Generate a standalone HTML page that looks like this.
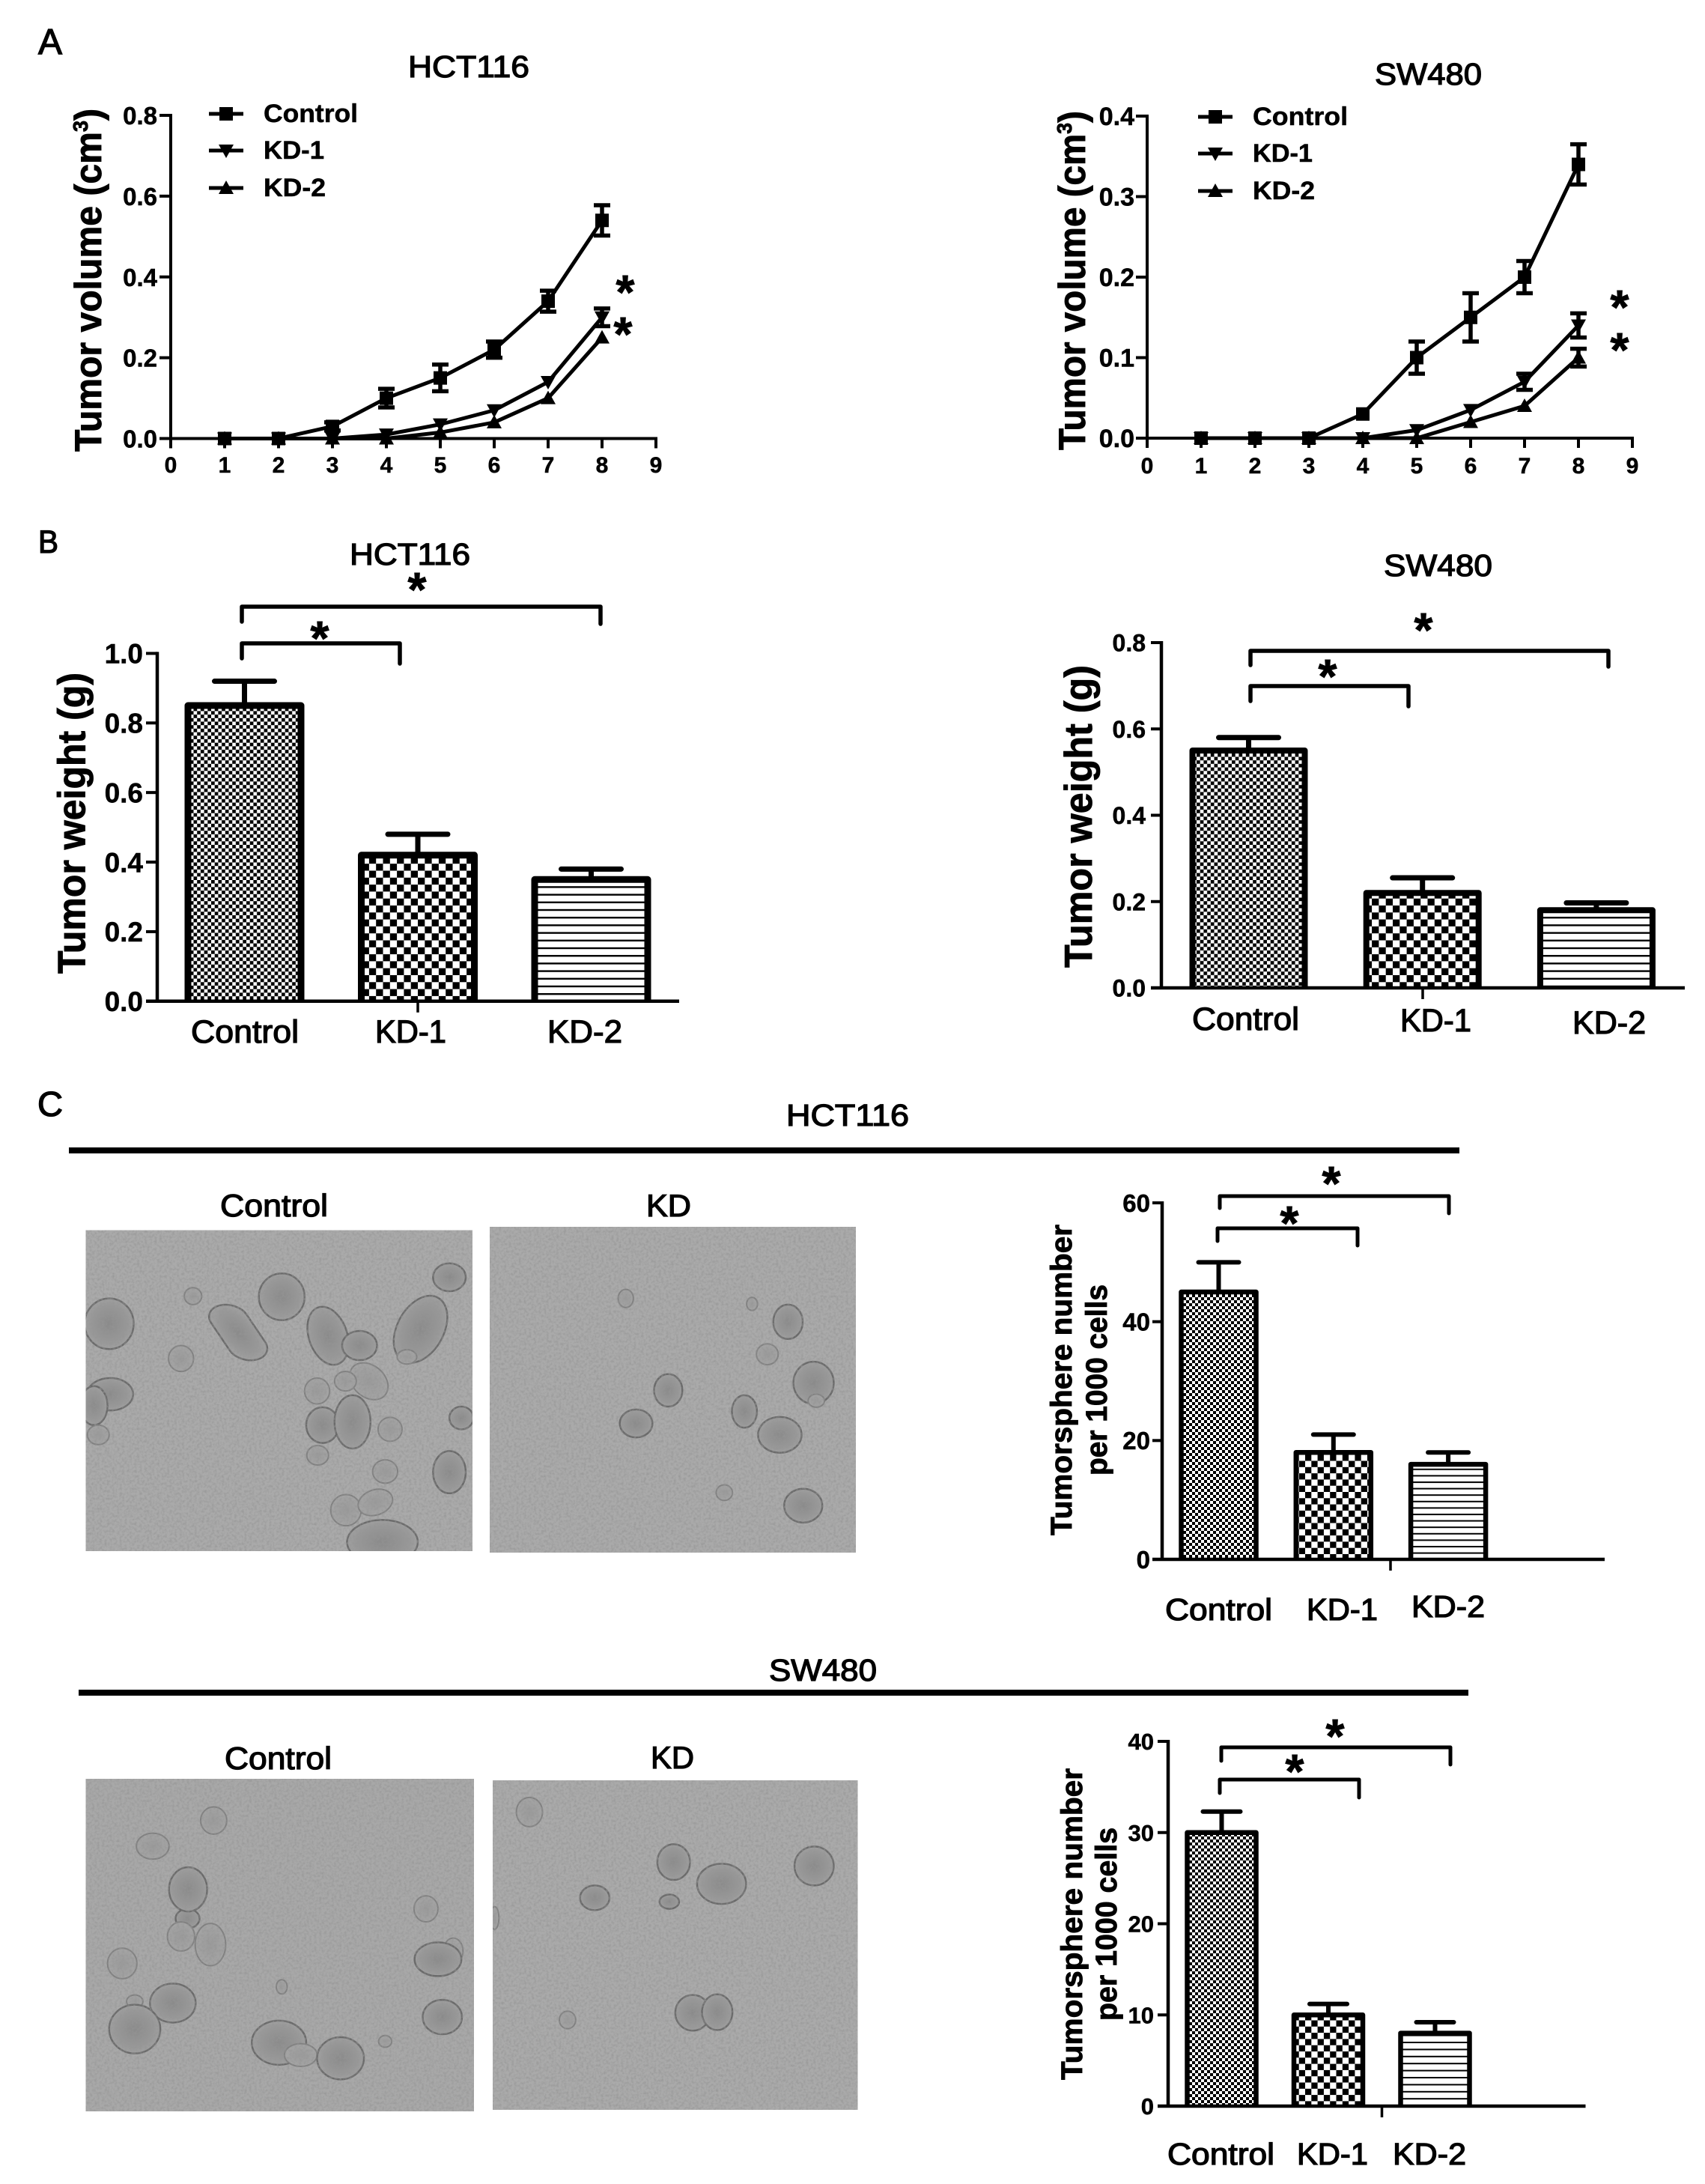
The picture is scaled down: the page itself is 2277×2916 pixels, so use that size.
<!DOCTYPE html>
<html lang="en">
<head>
<meta charset="utf-8">
<title>Tumor growth and tumorsphere figure</title>
<style>
html,body{margin:0;padding:0;background:#fff}
svg{display:block}
text{font-family:"Liberation Sans",sans-serif;fill:#000}
.b{font-weight:700;stroke:#000;stroke-width:.5px}
.t{font-weight:700;stroke:#000;stroke-width:.9px}
.m{font-weight:400;stroke:#000;stroke-width:1.3px}
.s{fill:url(#sphere);stroke:#6a6a6a;stroke-width:2.5px;vector-effect:non-scaling-stroke}
.f{fill:url(#sphereFaint);stroke:#808080;stroke-width:2px;vector-effect:non-scaling-stroke}
</style>
</head>
<body>
<svg id="figure" xmlns="http://www.w3.org/2000/svg" width="2277" height="2916" viewBox="0 0 2277 2916">
<defs>
<pattern id="fineB" width="9.4" height="9.4" patternUnits="userSpaceOnUse"><rect width="9.4" height="9.4" fill="#fff"/><rect width="4.7" height="4.7"/><rect x="4.7" y="4.7" width="4.7" height="4.7"/></pattern>
<pattern id="coarseB" width="18.6" height="18.6" patternUnits="userSpaceOnUse"><rect width="18.6" height="18.6" fill="#fff"/><rect width="9.3" height="9.3"/><rect x="9.3" y="9.3" width="9.3" height="9.3"/></pattern>
<pattern id="linesB" width="10.2" height="10.2" patternUnits="userSpaceOnUse"><rect width="10.2" height="10.2" fill="#fff"/><rect width="10.2" height="2.4"/></pattern>
<pattern id="fineC" width="8" height="8" patternUnits="userSpaceOnUse"><rect width="8" height="8" fill="#fff"/><rect width="4" height="4"/><rect x="4" y="4" width="4" height="4"/></pattern>
<pattern id="coarseC" width="16.6" height="16.6" patternUnits="userSpaceOnUse"><rect width="16.6" height="16.6" fill="#fff"/><rect width="8.3" height="8.3"/><rect x="8.3" y="8.3" width="8.3" height="8.3"/></pattern>
<pattern id="linesC1" width="8.6" height="8.6" patternUnits="userSpaceOnUse"><rect width="8.6" height="8.6" fill="#fff"/><rect width="8.6" height="2"/></pattern>
<pattern id="linesC2" width="9.4" height="9.4" patternUnits="userSpaceOnUse"><rect width="9.4" height="9.4" fill="#fff"/><rect width="9.4" height="2"/></pattern>
<radialGradient id="sphere"><stop offset="0" stop-color="#8a8a8a"/><stop offset=".75" stop-color="#989898"/><stop offset="1" stop-color="#a0a0a0"/></radialGradient>
<radialGradient id="sphereFaint"><stop offset="0" stop-color="#9a9a9a"/><stop offset="1" stop-color="#a5a5a5"/></radialGradient>
<filter id="grain" x="0" y="0" width="100%" height="100%"><feTurbulence type="fractalNoise" baseFrequency="0.3" numOctaves="2" seed="4"/><feColorMatrix type="matrix" values="0 0 0 0 .3 0 0 0 0 .3 0 0 0 0 .3 1.6 0 0 0 -.62"/></filter>
<clipPath id="clipP1"><rect x="114.5" y="1642.5" width="516.5" height="428.5"/></clipPath>
<clipPath id="clipP2"><rect x="654" y="1638" width="489" height="435"/></clipPath>
<clipPath id="clipP3"><rect x="114.5" y="2375" width="518.5" height="444"/></clipPath>
<clipPath id="clipP4"><rect x="658" y="2377" width="487.5" height="440"/></clipPath>
</defs>

<rect width="2277" height="2916" fill="#fff"/>

<text class="m" x="51" y="72" font-size="48" textLength="32" lengthAdjust="spacingAndGlyphs">A</text>
<text class="m" x="51" y="738" font-size="43" textLength="27" lengthAdjust="spacingAndGlyphs">B</text>
<text class="m" x="50" y="1490" font-size="46" textLength="34" lengthAdjust="spacingAndGlyphs">C</text>

<text class="m" x="545" y="103" font-size="41" textLength="162" lengthAdjust="spacingAndGlyphs">HCT116</text>
<text class="m" x="1836" y="113" font-size="41" textLength="143" lengthAdjust="spacingAndGlyphs">SW480</text>
<text class="m" x="467" y="754" font-size="41" textLength="161" lengthAdjust="spacingAndGlyphs">HCT116</text>
<text class="m" x="1848" y="769" font-size="41" textLength="145" lengthAdjust="spacingAndGlyphs">SW480</text>

<text class="t" transform="translate(135,603) rotate(-90)" font-size="50" textLength="458" lengthAdjust="spacingAndGlyphs">Tumor volume (cm<tspan font-size="28" dy="-18">3</tspan><tspan dy="18">)</tspan></text>
<text class="t" transform="translate(1449,601) rotate(-90)" font-size="50" textLength="453" lengthAdjust="spacingAndGlyphs">Tumor volume (cm<tspan font-size="28" dy="-18">3</tspan><tspan dy="18">)</tspan></text>
<text class="t" transform="translate(113.5,1300) rotate(-90)" font-size="52" textLength="402" lengthAdjust="spacingAndGlyphs">Tumor weight (g)</text>
<text class="t" transform="translate(1458,1292) rotate(-90)" font-size="52" textLength="404" lengthAdjust="spacingAndGlyphs">Tumor weight (g)</text>

<text class="m" x="1050" y="1503" font-size="41" textLength="164" lengthAdjust="spacingAndGlyphs">HCT116</text>
<rect x="92" y="1532" width="1857" height="8"/>
<text class="m" x="294" y="1624" font-size="42" textLength="144" lengthAdjust="spacingAndGlyphs">Control</text>
<text class="m" x="863" y="1624" font-size="42" textLength="60" lengthAdjust="spacingAndGlyphs">KD</text>

<text class="m" x="1027" y="2244" font-size="41" textLength="144" lengthAdjust="spacingAndGlyphs">SW480</text>
<rect x="105" y="2256" width="1856" height="8"/>
<text class="m" x="300" y="2362" font-size="42" textLength="143" lengthAdjust="spacingAndGlyphs">Control</text>
<text class="m" x="869" y="2361" font-size="42" textLength="58" lengthAdjust="spacingAndGlyphs">KD</text>

<g clip-path="url(#clipP1)">
<rect x="114.5" y="1642.5" width="516.5" height="428.5" fill="#aaaaaa"/>
<g transform="translate(60,1430) scale(.727,.4337)">
<ellipse class="s" cx="118" cy="778" rx="45" ry="78"/>
<ellipse class="s" cx="435" cy="695" rx="42" ry="72"/>
<ellipse class="f" cx="272" cy="693" rx="16" ry="26"/>
<ellipse class="s" cx="743" cy="635" rx="30" ry="43"/>
<rect class="s" x="320" y="715" width="70" height="180" rx="35" ry="45" transform="rotate(-22 355 805)"/>
<ellipse class="f" cx="250" cy="885" rx="23" ry="40"/>
<ellipse class="s" cx="520" cy="815" rx="36" ry="90" transform="rotate(-8 520 815)"/>
<ellipse class="s" cx="578" cy="845" rx="32" ry="45"/>
<ellipse class="s" cx="690" cy="795" rx="45" ry="105" transform="rotate(12 690 795)"/>
<ellipse class="f" cx="665" cy="880" rx="18" ry="22"/>
<ellipse class="s" cx="120" cy="995" rx="42" ry="50"/>
<ellipse class="s" cx="90" cy="1030" rx="25" ry="60"/>
<ellipse class="f" cx="98" cy="1120" rx="20" ry="30"/>
<ellipse class="f" cx="595" cy="955" rx="33" ry="58" transform="rotate(-15 595 955)"/>
<ellipse class="f" cx="552" cy="955" rx="20" ry="30"/>
<ellipse class="f" cx="500" cy="985" rx="23" ry="40"/>
<ellipse class="s" cx="510" cy="1090" rx="30" ry="55"/>
<ellipse class="s" cx="565" cy="1080" rx="33" ry="82"/>
<ellipse class="f" cx="634" cy="1103" rx="22" ry="37"/>
<ellipse class="f" cx="501" cy="1183" rx="20" ry="30"/>
<ellipse class="f" cx="625" cy="1233" rx="23" ry="36"/>
<ellipse class="s" cx="743" cy="1235" rx="30" ry="65"/>
<ellipse class="f" cx="553" cy="1352" rx="28" ry="48"/>
<ellipse class="f" cx="607" cy="1328" rx="30" ry="42" transform="rotate(20 607 1328)"/>
<ellipse class="s" cx="620" cy="1450" rx="65" ry="68"/>
<ellipse class="s" cx="765" cy="1068" rx="22" ry="35"/>
</g>
<rect x="114.5" y="1642.5" width="516.5" height="428.5" filter="url(#grain)"/>
</g>

<g clip-path="url(#clipP2)">
<rect x="654" y="1638" width="489" height="435" fill="#aaaaaa"/>
<g transform="translate(60,1430) scale(.727,.4337)">
<ellipse class="f" cx="1067" cy="700" rx="14" ry="28"/>
<ellipse class="f" cx="1299" cy="717" rx="10" ry="20"/>
<ellipse class="s" cx="1365" cy="772" rx="27" ry="53"/>
<ellipse class="f" cx="1327" cy="872" rx="20" ry="32"/>
<ellipse class="s" cx="1412" cy="960" rx="37" ry="65"/>
<ellipse class="f" cx="1417" cy="1015" rx="15" ry="20"/>
<ellipse class="s" cx="1145" cy="983" rx="26" ry="50"/>
<ellipse class="s" cx="1086" cy="1085" rx="30" ry="43"/>
<ellipse class="s" cx="1285" cy="1048" rx="23" ry="50"/>
<ellipse class="s" cx="1350" cy="1120" rx="40" ry="55"/>
<ellipse class="f" cx="1248" cy="1298" rx="15" ry="24"/>
<ellipse class="s" cx="1393" cy="1338" rx="35" ry="52"/>
</g>
<rect x="654" y="1638" width="489" height="435" filter="url(#grain)"/>
</g>

<g clip-path="url(#clipP3)">
<rect x="114.5" y="2375" width="518.5" height="444" fill="#a8a8a8"/>
<g transform="translate(60,2180) scale(.727,.4337)">
<ellipse class="f" cx="310" cy="578" rx="24" ry="42"/>
<ellipse class="f" cx="198" cy="657" rx="30" ry="40"/>
<ellipse class="s" cx="262" cy="880" rx="22" ry="30"/>
<ellipse class="s" cx="263" cy="790" rx="35" ry="68"/>
<ellipse class="f" cx="250" cy="935" rx="25" ry="45"/>
<ellipse class="f" cx="304" cy="960" rx="28" ry="65"/>
<ellipse class="f" cx="142" cy="1018" rx="27" ry="47"/>
<ellipse class="f" cx="700" cy="850" rx="22" ry="40"/>
<ellipse class="f" cx="750" cy="980" rx="18" ry="40"/>
<ellipse class="s" cx="722" cy="1005" rx="43" ry="52"/>
<ellipse class="s" cx="730" cy="1183" rx="36" ry="53"/>
<ellipse class="f" cx="165" cy="1135" rx="15" ry="20"/>
<ellipse class="s" cx="235" cy="1140" rx="42" ry="60"/>
<ellipse class="s" cx="165" cy="1220" rx="47" ry="75"/>
<ellipse class="f" cx="435" cy="1090" rx="10" ry="22"/>
<ellipse class="s" cx="430" cy="1262" rx="50" ry="68"/>
<ellipse class="f" cx="470" cy="1300" rx="30" ry="35"/>
<ellipse class="s" cx="543" cy="1310" rx="43" ry="65"/>
<ellipse class="f" cx="625" cy="1258" rx="12" ry="18"/>
</g>
<rect x="114.5" y="2375" width="518.5" height="444" filter="url(#grain)"/>
</g>

<g clip-path="url(#clipP4)">
<rect x="658" y="2377" width="487.5" height="440" fill="#aaaaaa"/>
<g transform="translate(60,2180) scale(.727,.4337)">
<ellipse class="f" cx="890" cy="552" rx="24" ry="45"/>
<ellipse class="s" cx="1155" cy="706" rx="30" ry="55"/>
<ellipse class="s" cx="1243" cy="773" rx="45" ry="62"/>
<ellipse class="s" cx="1413" cy="718" rx="36" ry="60"/>
<ellipse class="s" cx="1010" cy="816" rx="27" ry="38"/>
<ellipse class="s" cx="1147" cy="828" rx="18" ry="22"/>
<ellipse class="s" cx="1190" cy="1170" rx="32" ry="55"/>
<ellipse class="s" cx="1235" cy="1168" rx="28" ry="55"/>
<ellipse class="f" cx="960" cy="1192" rx="15" ry="27"/>
<ellipse class="f" cx="826" cy="878" rx="8" ry="35"/>
</g>
<rect x="658" y="2377" width="487.5" height="440" filter="url(#grain)"/>
</g>

<text class="t" transform="translate(1431,2050) rotate(-90)" font-size="40" textLength="415" lengthAdjust="spacingAndGlyphs">Tumorsphere number</text>
<text class="t" transform="translate(1478,1970) rotate(-90)" font-size="40" textLength="255" lengthAdjust="spacingAndGlyphs">per 1000 cells</text>
<text class="t" transform="translate(1445,2777) rotate(-90)" font-size="40" textLength="416" lengthAdjust="spacingAndGlyphs">Tumorsphere number</text>
<text class="t" transform="translate(1491,2698) rotate(-90)" font-size="40" textLength="258" lengthAdjust="spacingAndGlyphs">per 1000 cells</text>
</svg>

<script>
// ---- Panel A: tumor volume ----
const weeks = [1, 2, 3, 4, 5, 6, 7, 8];
const seriesNames = ['Control', 'KD-1', 'KD-2'];
const xTickLabels = ['0', '1', '2', '3', '4', '5', '6', '7', '8', '9'];

const a1Ticks = ['0.0', '0.2', '0.4', '0.6', '0.8'];
const a1Control = [0, 0, 0.03, 0.1, 0.15, 0.22, 0.34, 0.54];
const a1ControlErr = [0, 0, 0.01, 0.023, 0.033, 0.02, 0.026, 0.0375];
const a1Kd1 = [0, 0, 0, 0.01, 0.035, 0.07, 0.14, 0.3];
const a1Kd1Err = [0, 0, 0, 0, 0, 0, 0, 0.022];
const a1Kd2 = [0, 0, 0, 0, 0.015, 0.04, 0.1, 0.25];
const a1Kd2Err = [0, 0, 0, 0, 0, 0, 0, 0];

const a2Ticks = ['0.0', '0.1', '0.2', '0.3', '0.4'];
const a2Control = [0, 0, 0, 0.03, 0.1, 0.15, 0.2, 0.34];
const a2ControlErr = [0, 0, 0, 0, 0.02, 0.03, 0.02, 0.025];
const a2Kd1 = [0, 0, 0, 0, 0.01, 0.035, 0.07, 0.14];
const a2Kd1Err = [0, 0, 0, 0, 0, 0, 0.01, 0.015];
const a2Kd2 = [0, 0, 0, 0, 0, 0.02, 0.04, 0.1];
const a2Kd2Err = [0, 0, 0, 0, 0, 0, 0, 0.011];

// ---- Panel B: tumor weight ----
const barCategories = ['Control', 'KD-1', 'KD-2'];
const b1Ticks = ['0.0', '0.2', '0.4', '0.6', '0.8', '1.0'];
const b1Values = [0.85, 0.42, 0.35];
const b1Upper = [0.92, 0.48, 0.38];
const b2Ticks = ['0.0', '0.2', '0.4', '0.6', '0.8'];
const b2Values = [0.55, 0.22, 0.18];
const b2Upper = [0.58, 0.255, 0.197];

// ---- Panel C: tumorsphere number ----
const c1Ticks = ['0', '20', '40', '60'];
const c1Values = [45, 18, 16];
const c1Upper = [50, 21, 18];
const c2Ticks = ['0', '10', '20', '30', '40'];
const c2Values = [30, 10, 8];
const c2Upper = [32.3, 11.2, 9.2];

const NS = 'http://www.w3.org/2000/svg';
const root = document.getElementById('figure');

function mk(tag, attrs, parent) {
  const n = document.createElementNS(NS, tag);
  for (const k in attrs) n.setAttribute(k, attrs[k]);
  parent.appendChild(n);
  return n;
}
function ln(parent, x1, y1, x2, y2, w, cap) {
  return mk('line', {x1: x1, y1: y1, x2: x2, y2: y2, stroke: '#000', 'stroke-width': w, 'stroke-linecap': cap || 'butt'}, parent);
}
function tx(parent, str, x, y, size, cls, anchor, len) {
  const attrs = {x: x, y: y, 'font-size': size, class: cls, 'text-anchor': anchor || 'start'};
  if (len) {
    attrs.textLength = len;
    attrs.lengthAdjust = 'spacingAndGlyphs';
  }
  const n = mk('text', attrs, parent);
  n.textContent = str;
  return n;
}
function star(parent, cx, cy) {
  const n = tx(parent, '*', cx, cy + 30, 64, 't', 'middle');
  
  
}
function markerPath(kind, x, y) {
  if (kind === 0) return `M${x - 9} ${y - 9}h18v18h-18z`;
  if (kind === 1) return `M${x - 10} ${y - 8}h20l-10 18z`;
  return `M${x - 10} ${y + 8}h20l-10 -18z`;
}

function lineChart(cfg) {
  const g = mk('g', {}, root);
  
  
  const xs = v => cfg.x0 + v * cfg.xStep;
  const ys = v => cfg.y0 - (v / cfg.max) * (cfg.y0 - cfg.yTop);

  const yAxis = ln(g, cfg.x0, cfg.yTop - 2, cfg.x0, cfg.y0 + 2, 4);
  
  
  const xAxis = ln(g, cfg.x0 - 2, cfg.y0, xs(9) + 2, cfg.y0, 4);
  
  

  cfg.ticks.forEach(t => {
    const y = ys(parseFloat(t));
    const m = ln(g, cfg.x0 - 15, y, cfg.x0, y, 4);
    
    
    const l = tx(g, t, cfg.labelRight, y + 12, cfg.tickSize, 'b', 'end');
    
    
  });
  xTickLabels.forEach(t => {
    const x = xs(+t);
    const m = ln(g, x, cfg.y0, x, cfg.y0 + 13, 4);
    
    
    const l = tx(g, t, x, cfg.xLabelY, 30, 'b', 'middle');
    
    
  });

  [2, 1, 0].forEach(si => {
    const vals = cfg.series[si], errs = cfg.errors[si];
    const sg = mk('g', {}, g);
    
    
    const pts = vals.map((v, i) => xs(weeks[i]) + ',' + ys(v)).join(' ');
    const pl = mk('polyline', {points: pts, fill: 'none', stroke: '#000', 'stroke-width': 5, 'stroke-linejoin': 'round'}, sg);
    
    
    vals.forEach((v, i) => {
      const x = xs(weeks[i]), y = ys(v);
      const e = errs[i];
      if (e > 0) {
        const eb = mk('path', {d: `M${x} ${ys(v - e)}V${ys(v + e)}M${x - 11} ${ys(v + e)}h22M${x - 11} ${ys(v - e)}h22`, fill: 'none', stroke: '#000', 'stroke-width': 5.5}, sg);
        
        
      }
      const pt = mk('path', {d: markerPath(si, x, y)}, sg);
      
      
    });
  });

  seriesNames.forEach((name, si) => {
    const lg = mk('g', {}, g);
    
    
    const y = cfg.legendY[si];
    ln(lg, cfg.legendX, y, cfg.legendX + 46, y, 5);
    mk('path', {d: markerPath(si, cfg.legendX + 23, y)}, lg);
    tx(lg, name, cfg.legendTextX, y + 11, 34, 'b', 'start', cfg.legendLens[si]);
  });
  cfg.stars.forEach(s => star(g, s[0], s[1]));
}

function barChart(cfg) {
  const g = mk('g', {}, root);
  
  
  const ys = v => cfg.y0 - (v / cfg.max) * (cfg.y0 - cfg.yTop);
  const cx = i => cfg.c0 + i * cfg.step;

  cfg.values.forEach((v, i) => {
    const left = cx(i) - cfg.width / 2;
    const bar = mk('path', {d: `M${left} ${cfg.y0}V${ys(v)}h${cfg.width}V${cfg.y0}`, fill: 'url(#' + cfg.fills[i] + ')', stroke: '#000', 'stroke-width': cfg.barStroke, 'stroke-linejoin': 'round'}, g);
    
    
    const top = ys(cfg.upper[i]);
    const eb = mk('path', {d: `M${cx(i)} ${ys(v)}V${top}M${cx(i) - cfg.cap / 2} ${top}h${cfg.cap}`, fill: 'none', stroke: '#000', 'stroke-width': cfg.capStroke, 'stroke-linecap': 'round'}, g);
    
    
  });

  const yAxis = ln(g, cfg.x0, cfg.yTop - 2, cfg.x0, cfg.y0 + 2, 4.5);
  
  
  const xAxis = ln(g, cfg.xAxisStart, cfg.y0, cfg.xAxisEnd, cfg.y0, 4.5);
  
  
  const xt = ln(g, cfg.tickX, cfg.y0, cfg.tickX, cfg.y0 + 15, 3.5);
  
  

  cfg.ticks.forEach(t => {
    const y = ys(parseFloat(t));
    const m = ln(g, cfg.xAxisStart, y, cfg.x0, y, 4);
    
    
    const l = tx(g, t, cfg.labelRight, y + cfg.tickSize * 0.36, cfg.tickSize, 'b', 'end');
    
    
  });

  barCategories.forEach((name, i) => {
    const l = tx(g, name, cfg.catX[i], cfg.catY[i], cfg.catSize, 'm', 'start', cfg.catLen[i]);
    
    
  });

  cfg.brackets.forEach(b => {
    const br = mk('path', {d: `M${b[0]} ${b[3]}V${b[2]}H${b[1]}V${b[4]}`, fill: 'none', stroke: '#000', 'stroke-width': cfg.bracketStroke, 'stroke-linecap': 'round', 'stroke-linejoin': 'round'}, g);
    
    
    star(g, b[5], b[6]);
  });
}

lineChart({
  name: 'chart-a-hct116', x0: 228, xStep: 72, y0: 585.5, yTop: 154, max: 0.8,
  ticks: a1Ticks, labelRight: 210, tickSize: 33, xLabelY: 631,
  series: [a1Control, a1Kd1, a1Kd2], errors: [a1ControlErr, a1Kd1Err, a1Kd2Err],
  legendX: 279, legendTextX: 352, legendY: [152, 201, 251], legendLens: [126, 81, 83],
  stars: [[835, 382], [832, 438]]
});
lineChart({
  name: 'chart-a-sw480', x0: 1532, xStep: 72, y0: 585, yTop: 155, max: 0.4,
  ticks: a2Ticks, labelRight: 1515, tickSize: 34, xLabelY: 632,
  series: [a2Control, a2Kd1, a2Kd2], errors: [a2ControlErr, a2Kd1Err, a2Kd2Err],
  legendX: 1600, legendTextX: 1673, legendY: [156, 205, 255], legendLens: [127, 80, 83],
  stars: [[2163, 402], [2163, 459]]
});
barChart({
  name: 'chart-b-hct116', x0: 210, y0: 1336.8, yTop: 872.4, max: 1, xAxisStart: 195, xAxisEnd: 907, tickX: 558,
  c0: 326.5, step: 231.5, width: 151, barStroke: 9, cap: 80, capStroke: 7, bracketStroke: 5.5,
  values: b1Values, upper: b1Upper, ticks: b1Ticks, labelRight: 191, tickSize: 37,
  fills: ['fineB', 'coarseB', 'linesB'],
  catX: [255, 501, 731], catY: [1392, 1392, 1392], catLen: [144, 95, 100], catSize: 43,
  brackets: [[323, 534, 859, 879, 886, 427, 844], [323, 802, 810, 830, 833, 557, 779]]
});
barChart({
  name: 'chart-b-sw480', x0: 1551, y0: 1319, yTop: 858, max: 0.8, xAxisStart: 1537, xAxisEnd: 2250, tickX: 1900,
  c0: 1667.5, step: 232.2, width: 150, barStroke: 8, cap: 80, capStroke: 7, bracketStroke: 5.5,
  values: b2Values, upper: b2Upper, ticks: b2Ticks, labelRight: 1530, tickSize: 32,
  fills: ['fineB', 'coarseB', 'linesB'],
  catX: [1592, 1870, 2100], catY: [1375, 1377, 1380], catLen: [143, 95, 98], catSize: 43,
  brackets: [[1670, 1881, 916, 936, 943, 1773, 895], [1670, 2148, 869, 888, 890, 1901, 833]]
});
barChart({
  name: 'chart-c-hct116', x0: 1552, y0: 2082, yTop: 1606, max: 60, xAxisStart: 1539, xAxisEnd: 2143, tickX: 1857,
  c0: 1627.5, step: 153.3, width: 100, barStroke: 6.5, cap: 54, capStroke: 6, bracketStroke: 5,
  values: c1Values, upper: c1Upper, ticks: c1Ticks, labelRight: 1536, tickSize: 33,
  fills: ['fineC', 'coarseC', 'linesC1'],
  catX: [1556, 1745, 1885], catY: [2163, 2163, 2159], catLen: [143, 95, 98], catSize: 41,
  brackets: [[1626, 1813, 1640, 1657, 1663, 1722, 1625], [1629, 1935, 1597, 1613, 1620, 1778, 1572]]
});
barChart({
  name: 'chart-c-sw480', x0: 1560, y0: 2812, yTop: 2325, max: 40, xAxisStart: 1546, xAxisEnd: 2117.5, tickX: 1845.5,
  c0: 1631.5, step: 142.5, width: 92, barStroke: 6.5, cap: 50, capStroke: 6, bracketStroke: 5,
  values: c2Values, upper: c2Upper, ticks: c2Ticks, labelRight: 1541, tickSize: 31,
  fills: ['fineC', 'coarseC', 'linesC2'],
  catX: [1559, 1732, 1860], catY: [2890, 2890, 2890], catLen: [143, 95, 98], catSize: 41,
  brackets: [[1629, 1815, 2376, 2394, 2400, 1729, 2357], [1631, 1937, 2333, 2351, 2356, 1783, 2310]]
});
</script>
</body>
</html>
